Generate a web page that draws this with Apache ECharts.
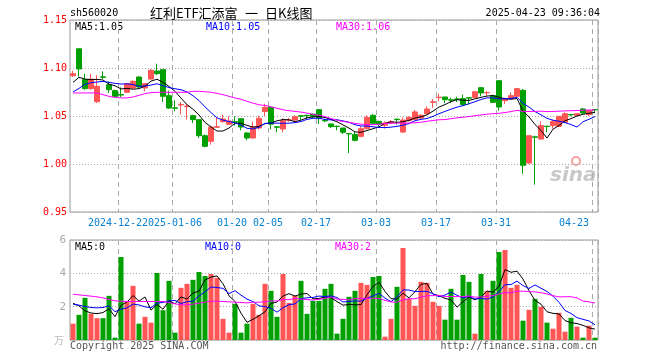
<!DOCTYPE html>
<html><head><meta charset="utf-8">
<script src="https://cdn.jsdelivr.net/npm/echarts@6/dist/echarts.min.js"></script>
<style>html,body{margin:0;padding:0;background:#fff}#c{width:660px;height:360px}</style>
</head><body><div id="c"></div>
<script>
// trading days
const days2412 = [11,12,13,16,17,18,19,20,23,24,25,26,27,30,31];
const days2501 = [2,3,6,7,8,9,10,13,14,15,16,17,20,21,22,23,24,27];
const days2502 = [5,6,7,10,11,12,13,14,17,18,19,20,21,24,25,26,27,28];
const days2503 = [3,4,5,6,7,10,11,12,13,14,17,18,19,20,21,24,25,26,27,28,31];
const days2504 = [1,2,3,7,8,9,10,11,14,15,16,17,18,21,22,23];

const tickDates = ['2024-12-23','2025-01-06','2025-01-20','2025-02-05','2025-02-17','2025-03-03','2025-03-17','2025-03-31','2025-04-23'];
const tickLabels = ['2024-12-23','2025-01-06','01-20','02-05','02-17','03-03','03-17','03-31','04-23'];

const opens = [1.092,1.120,1.088,1.0785,1.0649,1.0908,1.0826,1.0764,1.0724,1.0747,
1.0792,1.0906,1.0792,1.0885,1.0969,1.0983,1.0712,1.0585,1.0615,1.0598,
1.0503,1.0462,1.0295,1.0236,1.0383,1.0441,1.0413,1.0441,1.0472,1.0323,
1.0271,1.0375,1.0547,1.059,1.0388,1.0365,1.0455,1.0458,1.0502,1.0507,
1.052,1.0566,1.0453,1.0417,1.0394,1.0375,1.0318,1.0306,1.0288,1.0368,
1.0507,1.0444,1.0403,1.0435,1.0467,1.0333,1.0451,1.0465,1.0479,1.0524,
1.0642,1.0692,1.0698,1.0669,1.0678,1.0681,1.0690,1.0694,1.0795,1.0741,
1.0712,1.0868,1.066,1.0681,1.0705,1.0767,1.001,1.0283,1.026,1.0394,
1.04,1.0392,1.0434,1.0516,1.0507,1.0573,1.0514,1.0568];
const closes = [1.094,1.099,1.0785,1.0885,1.0809,1.0904,1.0774,1.0705,1.0718,1.0837,
1.0861,1.0802,1.0837,1.0976,1.0941,1.0705,1.0583,1.058,1.062,1.0603,
1.0462,1.0295,1.0184,1.0385,1.0388,1.0469,1.0448,1.0436,1.0385,1.0271,
1.0385,1.0476,1.059,1.0415,1.0383,1.0451,1.046,1.0493,1.0498,1.0503,
1.0495,1.0479,1.0449,1.0389,1.039,1.033,1.0314,1.0247,1.0368,1.0486,
1.0424,1.0417,1.0427,1.0439,1.0463,1.0458,1.0486,1.0542,1.0507,1.0573,
1.0648,1.0696,1.067,1.0665,1.0672,1.0618,1.0686,1.0753,1.074,1.0745,
1.0642,1.0594,1.0677,1.0712,1.0785,0.9986,1.0295,1.0279,1.040,1.039,
1.0444,1.0497,1.0524,1.0512,1.0524,1.0531,1.0556,1.0564];
const highs = [1.097,1.120,1.094,1.0938,1.0924,1.0965,1.0861,1.0774,1.0799,1.0844,
1.0872,1.0913,1.0844,1.099,1.1045,1.0983,1.0764,1.0663,1.0646,1.0628,
1.0514,1.0462,1.0306,1.0399,1.0479,1.0514,1.0497,1.0497,1.0475,1.033,
1.0444,1.0503,1.0628,1.0595,1.0392,1.0479,1.048,1.0507,1.0507,1.0514,
1.0525,1.0566,1.0472,1.0417,1.0399,1.0375,1.0323,1.0333,1.0392,1.0507,
1.0521,1.0451,1.0444,1.0458,1.0472,1.0486,1.0497,1.0562,1.0521,1.0601,
1.0677,1.0733,1.0698,1.069,1.07,1.0722,1.069,1.076,1.0795,1.076,
1.0722,1.0868,1.069,1.0747,1.0792,1.0781,1.0295,1.0295,1.0444,1.0396,
1.0462,1.0497,1.0538,1.0521,1.0531,1.0583,1.0566,1.057];
const lows = [1.0906,1.091,1.0774,1.0774,1.0635,1.0885,1.074,1.0698,1.0698,1.074,
1.0781,1.0792,1.0757,1.0878,1.0927,1.0646,1.0573,1.0549,1.0514,1.0462,
1.0427,1.0271,1.0174,1.0201,1.0375,1.0431,1.0406,1.0399,1.0351,1.0247,
1.0264,1.0358,1.0497,1.036,1.033,1.033,1.044,1.0444,1.0455,1.0472,
1.048,1.0417,1.0437,1.0375,1.0351,1.0313,1.0115,1.0236,1.0278,1.0361,
1.041,1.0393,1.037,1.0417,1.041,1.0323,1.0444,1.0458,1.047,1.0514,
1.0583,1.0653,1.0635,1.0635,1.0645,1.0604,1.0618,1.0688,1.0705,1.0712,
1.0635,1.0556,1.0625,1.0674,1.0698,0.9899,1.000,0.9785,1.0253,1.033,
1.0368,1.0385,1.0427,1.0497,1.0503,1.0524,1.0497,1.0531];
const volumes = [0.98,1.51,2.53,1.57,1.31,1.31,2.65,0.14,4.98,2.31,
3.25,0.98,1.39,1.04,4.02,1.79,3.55,0.44,3.13,3.37,
3.61,4.08,3.84,3.96,3.73,1.27,0.44,2.17,0.44,0.98,
2.17,1.51,3.37,2.95,1.39,3.96,2.23,2.65,3.55,1.57,
2.35,2.35,3.07,3.37,0.38,1.27,2.59,2.95,3.43,3.31,
3.78,3.84,0.2,1.27,3.19,5.52,2.47,2.05,3.49,3.43,
2.29,2.05,1.22,3.07,1.22,3.90,3.49,0.38,3.96,2.95,
3.55,5.28,5.40,3.13,3.31,1.16,1.81,2.47,1.99,1.04,
0.68,1.63,0.50,1.33,0.80,0.14,0.86,0.14];

// moving-average values before enough in-window history
const ma5Head = [1.085,1.0903,1.0885,1.0878];
const ma10Head = [1.075,1.0788,1.083,1.0847,1.0854,1.0861,1.085,1.084,1.0833];
const ma30Head = [1.074,1.074,1.074,1.074,1.074,1.0722,1.0705,1.0694,1.0688,1.0688,
1.0698,1.0715,1.0733,1.0743,1.0747,1.0747,1.0747,1.0747,1.0747,1.0747,
1.0757,1.0757,1.0753,1.0747,1.0736,1.0722,1.0705,1.0688,1.0674];
const volMa5Head = [2.2,2.05,1.75,1.62];
const volMa10Head = [2.15,2.09,2.01,1.95,1.93,1.95,2.05,1.7,1.85];
const volMa30Head = [2.75,2.71,2.67,2.63,2.59,2.53,2.43,2.35,2.33,2.31,
2.31,2.31,2.31,2.31,2.31,2.31,2.25,2.17,2.11,2.11,
2.15,2.21,2.27,2.33,2.33,2.31,2.29,2.27,2.25];

const RED = '#ff5555', GREEN = '#00a000';
const MONO = '"DejaVu Sans Mono", monospace';
const CJK = '"Noto Sans CJK SC"';

function pad(n){return n<10?'0'+n:''+n;}
const dates = [].concat(
  days2412.map(d=>'2024-12-'+pad(d)),
  days2501.map(d=>'2025-01-'+pad(d)),
  days2502.map(d=>'2025-02-'+pad(d)),
  days2503.map(d=>'2025-03-'+pad(d)),
  days2504.map(d=>'2025-04-'+pad(d)));
const tickIdx = tickDates.map(d=>dates.indexOf(d));

function ma(src, n, head){
  return src.map((_, i) => {
    if (i < n-1) return head[i];
    let s = 0; for (let j=i-n+1;j<=i;j++) s += src[j];
    return +(s/n).toFixed(4);
  });
}
const ma5 = ma(closes,5,ma5Head), ma10 = ma(closes,10,ma10Head), ma30 = ma(closes,30,ma30Head);
const vma5 = ma(volumes,5,volMa5Head), vma10 = ma(volumes,10,volMa10Head), vma30 = ma(volumes,30,volMa30Head);

const kData = dates.map((_, i) => [opens[i], closes[i], lows[i], highs[i]]);
const vData = volumes.map((v, i) => ({value: v, itemStyle: {color: closes[i] >= opens[i] ? RED : GREEN}}));

const chart = echarts.init(document.getElementById('c'), null, {renderer:'canvas'});
const split = {show:true, interval:(i)=>tickIdx.includes(i), lineStyle:{color:'#aaa', type:[5,4], width:1}};
const last = a => a[a.length-1];

function txt(text, x, y, fill, opts){
  return Object.assign({type:'text', x:x, y:y, silent:true,
    style:Object.assign({text:text, fill:fill, font:'10px '+MONO, textVerticalAlign:'middle', textAlign:'left'}, opts||{})});
}
function labelCfg(showFn){
  return {show:true, interval:showFn, hideOverlap:false, margin:6, color:'#0a80d0',
    fontFamily:MONO, fontSize:10, backgroundColor:'#fff', padding:[0,6,0,0],
    alignMaxLabel:'right',
    formatter:(v)=>tickLabels[tickDates.indexOf(v)]};
}

chart.setOption({
  animation:false,
  backgroundColor:'#fff',
  grid:[
    {left:70, top:20, width:528, height:192, show:true, borderColor:'#999', borderWidth:1, backgroundColor:'transparent'},
    {left:70, top:240, width:528, height:100, show:true, borderColor:'#999', borderWidth:1, backgroundColor:'transparent'}
  ],
  xAxis:[
    {type:'category', gridIndex:0, data:dates, boundaryGap:true, z:2,
     axisLine:{show:false}, axisTick:{show:false}, splitLine:split,
     axisLabel:labelCfg((i)=>tickIdx.includes(i) && i !== tickIdx[0])},
    {type:'category', gridIndex:1, data:dates, boundaryGap:true,
     axisLine:{show:false}, axisTick:{show:false}, splitLine:split, axisLabel:{show:false}},
    {type:'category', gridIndex:0, data:dates, boundaryGap:true, position:'bottom', z:1,
     axisLine:{show:false}, axisTick:{show:false}, splitLine:{show:false},
     axisLabel:labelCfg((i)=>i === tickIdx[0])}
  ],
  yAxis:[
    {type:'value', gridIndex:0, min:0.95, max:1.15, interval:0.05,
     axisLine:{show:false}, axisTick:{show:false},
     splitLine:{show:true, lineStyle:{color:'#aaa', type:[1,2]}},
     axisLabel:{color:'#ff0000', fontFamily:MONO, fontSize:10, margin:3, formatter:(v)=>v.toFixed(2)}},
    {type:'value', gridIndex:1, min:0, max:6, interval:2,
     axisLine:{show:false}, axisTick:{show:false},
     splitLine:{show:true, lineStyle:{color:'#aaa', type:[1,2]}},
     axisLabel:{color:'#aaa', fontFamily:MONO, fontSize:11, margin:4, formatter:(v)=>v===0?'':String(v)}}
  ],
  series:[
    {type:'candlestick', xAxisIndex:0, yAxisIndex:0, data:kData, barWidth:5,
     itemStyle:{color:RED, color0:GREEN, borderColor:RED, borderColor0:GREEN, borderWidth:1}},
    {type:'line', xAxisIndex:0, yAxisIndex:0, data:ma5, showSymbol:false, lineStyle:{color:'#000', width:1}},
    {type:'line', xAxisIndex:0, yAxisIndex:0, data:ma10, showSymbol:false, lineStyle:{color:'#0000ff', width:1}},
    {type:'line', xAxisIndex:0, yAxisIndex:0, data:ma30, showSymbol:false, lineStyle:{color:'#ff00ff', width:1}},
    {type:'bar', xAxisIndex:1, yAxisIndex:1, data:vData, barWidth:5},
    {type:'line', xAxisIndex:1, yAxisIndex:1, data:vma5, showSymbol:false, lineStyle:{color:'#000', width:1}},
    {type:'line', xAxisIndex:1, yAxisIndex:1, data:vma10, showSymbol:false, lineStyle:{color:'#0000ff', width:1}},
    {type:'line', xAxisIndex:1, yAxisIndex:1, data:vma30, showSymbol:false, lineStyle:{color:'#ff00ff', width:1}}
  ],
  graphic:[
    txt('sh560020', 70, 13, '#000'),
    txt('红利ETF汇添富', 150, 13, '#000', {font:'13px '+CJK}),
    txt('一', 245, 13, '#000', {font:'13px '+CJK}),
    txt('日K线图', 265, 13, '#000', {font:'13px '+CJK}),
    txt('2025-04-23 09:36:04', 600, 13, '#000', {textAlign:'right'}),
    txt('MA5:' + last(ma5).toFixed(2), 75, 27, '#000'),
    txt('MA10:' + last(ma10).toFixed(2), 206, 27, '#0000ff'),
    txt('MA30:' + last(ma30).toFixed(2), 336, 27, '#ff00ff'),
    txt('MA5:' + Math.floor(last(vma5)), 75, 247, '#000'),
    txt('MA10:' + Math.floor(last(vma10)), 205, 247, '#0000ff'),
    txt('MA30:' + Math.floor(last(vma30)), 335, 247, '#ff00ff'),
    txt('万', 54, 340, '#bbb', {font:'10px '+CJK}),
    txt('Copyright 2025 SINA.COM', 70, 346, '#555'),
    txt('http://finance.sina.com.cn', 597, 346, '#555', {textAlign:'right'}),
    txt('sina', 550, 176, '#c8c8c8', {font:'italic bold 20px "DejaVu Sans"'}),
    {type:'circle', shape:{cx:576, cy:161, r:4}, silent:true, style:{fill:'none', stroke:'#f3a3a3', lineWidth:2}}
  ]
});
</script></body></html>
